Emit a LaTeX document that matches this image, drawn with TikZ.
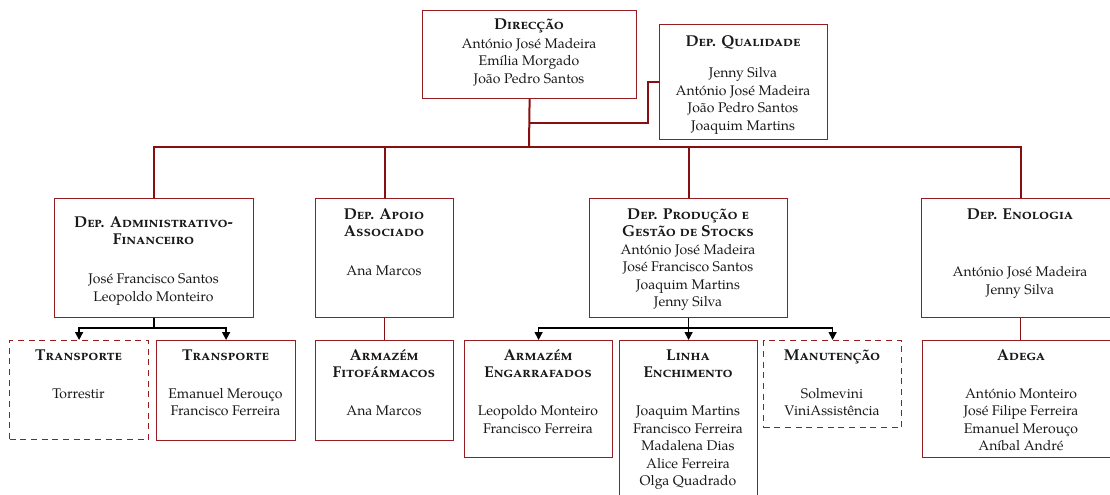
\documentclass[tikz,border=0pt]{standalone}
\usepackage{fontspec}
\setmainfont{TeX Gyre Pagella}
\usetikzlibrary{arrows.meta,calc}
\definecolor{dred}{RGB}{135,15,15}
\definecolor{bred}{RGB}{150,30,35}
\tikzset{
  orgbox/.style={draw=bred, line width=0.9pt, rectangle, inner sep=0pt, anchor=north west},
  dashbox/.style={orgbox, dash pattern=on 4.5pt off 3.5pt},
  txt/.style={anchor=north, align=center, inner sep=0pt, text=black!90, font=\fontsize{10.5}{13.125}\selectfont},
  bus/.style={draw=dred, line width=1.5pt},
  conn/.style={draw=dred, line width=1.1pt},
  arr/.style={draw=black, line width=1.1pt, -{Triangle[width=6pt,length=6pt]}},
  blk/.style={draw=black, line width=1.1pt},
}
\newcommand{\ttl}[1]{\rule{0pt}{9pt}{\fontsize{11.8}{13.125}\selectfont\textbf{\textsc{#1}}}}
\begin{document}
\begin{tikzpicture}[x=0.75pt,y=-0.75pt]
\useasboundingbox (0,0) rectangle (1110,494);
% boxes
\node[orgbox, minimum width=214*0.75pt, minimum height=88*0.75pt] (dir) at (422,10) {};
\node[orgbox, minimum width=168*0.75pt, minimum height=115*0.75pt] (qual) at (659,24) {};
\node[orgbox, minimum width=199*0.75pt, minimum height=119*0.75pt] (adm) at (54,198) {};
\node[orgbox, minimum width=138*0.75pt, minimum height=119*0.75pt] (apo) at (315,198) {};
\node[orgbox, minimum width=198*0.75pt, minimum height=119*0.75pt] (prod) at (589,198) {};
\node[orgbox, minimum width=198*0.75pt, minimum height=119*0.75pt] (eno) at (921,198) {};
\node[dashbox, minimum width=139*0.75pt, minimum height=99*0.75pt] (tr1) at (9,340) {};
\node[orgbox, minimum width=139*0.75pt, minimum height=100*0.75pt] (tr2) at (156,340) {};
\node[orgbox, minimum width=138*0.75pt, minimum height=100*0.75pt] (fito) at (315,340) {};
\node[orgbox, minimum width=148*0.75pt, minimum height=117*0.75pt] (eng) at (464,340) {};
\node[orgbox, minimum width=138*0.75pt, minimum height=160*0.75pt] (linha) at (619,340) {};
\node[dashbox, minimum width=138*0.75pt, minimum height=87*0.75pt] (man) at (763,340) {};
\node[orgbox, minimum width=198*0.75pt, minimum height=117*0.75pt] (adega) at (922,340) {};
% texts
\node[txt] (tdir) at (529,17) {\ttl{Direcção}\\[1pt]António José Madeira\\Emília Morgado\\João Pedro Santos};
\node[txt] (tqual) at (743,34) {\ttl{Dep. Qualidade}\\[10.5pt]Jenny Silva\\António José Madeira\\João Pedro Santos\\Joaquim Martins};
\node[txt] (tadm) at (153.5,215) {\ttl{Dep. Administrativo-}\\\ttl{Financeiro}\\[16pt]José Francisco Santos\\Leopoldo Monteiro};
\node[txt] (tapo) at (384,207) {\ttl{Dep. Apoio}\\\ttl{Associado}\\[16pt]Ana Marcos};
\node[txt] (tprod) at (688,207) {\ttl{Dep. Produção e}\\\ttl{Gestão de Stocks}\\António José Madeira\\José Francisco Santos\\Joaquim Martins\\Jenny Silva};
\node[txt] (teno) at (1020,207) {\ttl{Dep. Enologia}\\[30pt]António José Madeira\\Jenny Silva};
\node[txt] (ttr1) at (78.5,348) {\ttl{Transporte}\\[15.5pt]Torrestir};
\node[txt] (ttr2) at (225.5,348) {\ttl{Transporte}\\[15.5pt]Emanuel Merouço\\Francisco Ferreira};
\node[txt] (tfito) at (384,348) {\ttl{Armazém}\\\ttl{Fitofármacos}\\[15.5pt]Ana Marcos};
\node[txt] (teng) at (538,348) {\ttl{Armazém}\\\ttl{Engarrafados}\\[15.5pt]Leopoldo Monteiro\\Francisco Ferreira};
\node[txt] (tlinha) at (688,348) {\ttl{Linha}\\\ttl{Enchimento}\\[15.5pt]Joaquim Martins\\Francisco Ferreira\\Madalena Dias\\Alice Ferreira\\Olga Quadrado};
\node[txt] (tman) at (832,348) {\ttl{Manutenção}\\[15.5pt]Solmevini\\ViniAssistência};
\node[txt] (tadega) at (1021,348) {\ttl{Adega}\\[15.5pt]António Monteiro\\José Filipe Ferreira\\Emanuel Merouço\\Aníbal André};
% top connectors
\coordinate (bus) at (529,147);
\coordinate (qj) at (529,123);
\draw[bus] (dir.south) -- (bus);
\draw[bus] (adm.north) -- (adm.north |- bus) -- (eno.north |- bus) -- (eno.north);
\draw[bus] (apo.north) -- (apo.north |- bus);
\draw[bus] (prod.north) -- (prod.north |- bus);
\draw[conn] (qj) -- ++(119,0) |- (qual.west);
% lower connectors
\draw[conn] (apo.south) -- (fito.north);
\draw[conn] (eno.south) -- (eno.south |- adega.north);
\coordinate (admj) at ($(adm.south)+(0,10)$);
\draw[blk] (adm.south) -- (admj);
\draw[arr] (admj) -| (tr1.north);
\draw[arr] (admj) -| (tr2.north);
\coordinate (prodj) at ($(prod.south)+(0,10)$);
\draw[blk] (prod.south) -- (prodj);
\draw[arr] (prodj) -| (eng.north);
\draw[arr] (prodj) -- (linha.north);
\draw[arr] (prodj) -| (man.north);
\end{tikzpicture}
\end{document}
